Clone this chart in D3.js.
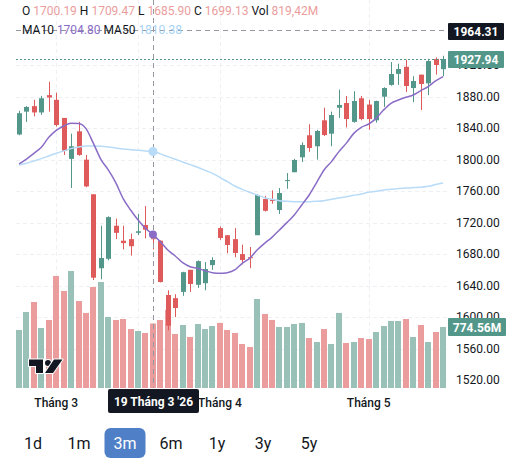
<!DOCTYPE html>
<html>
<head>
<meta charset="utf-8">
<script src="https://cdn.jsdelivr.net/npm/d3@7"></script>
<style>
  html, body { margin: 0; padding: 0; background: #fff; }
  svg { display: block; font-family: Roboto, "Liberation Sans", sans-serif; }
</style>
</head>
<body>
<div id="chart"></div>
<script>
// trading days shown (3 month view)
const dates = [
  "2026-02-23", "2026-02-24", "2026-02-25", "2026-02-26", "2026-02-27",
  "2026-03-02", "2026-03-03", "2026-03-04", "2026-03-05", "2026-03-06",
  "2026-03-09", "2026-03-10", "2026-03-11", "2026-03-12", "2026-03-13",
  "2026-03-16", "2026-03-17", "2026-03-18", "2026-03-19", "2026-03-20",
  "2026-03-23", "2026-03-24", "2026-03-25", "2026-03-26", "2026-03-27",
  "2026-03-30", "2026-03-31", "2026-04-01", "2026-04-02", "2026-04-03",
  "2026-04-06", "2026-04-07", "2026-04-08", "2026-04-09", "2026-04-10",
  "2026-04-13", "2026-04-14", "2026-04-15", "2026-04-16", "2026-04-17",
  "2026-04-20", "2026-04-21", "2026-04-22", "2026-04-23", "2026-04-24",
  "2026-04-28", "2026-04-29", "2026-05-04", "2026-05-05", "2026-05-06",
  "2026-05-07", "2026-05-08", "2026-05-11", "2026-05-12", "2026-05-13",
  "2026-05-14", "2026-05-15", "2026-05-18"
];

const opens = [1832, 1861, 1868, 1860, 1882, 1876, 1853, 1801, 1836, 1800,
  1756, 1662, 1674, 1716, 1697, 1699, 1707, 1717, 1700.19, 1697,
  1628, 1624, 1632, 1660, 1641, 1643, 1666, 1713, 1704, 1699,
  1680, 1676, 1704, 1750, 1749, 1736, 1773, 1784, 1803, 1831,
  1817, 1850, 1833, 1866, 1872, 1848, 1878, 1870, 1850, 1880,
  1895, 1909, 1918, 1891, 1908, 1897, 1928, 1915];
const highs = [1862, 1868, 1876, 1881, 1899, 1885, 1853, 1833, 1848, 1806,
  1756, 1716, 1728, 1725, 1716, 1706, 1731, 1741, 1709.47, 1697.5,
  1634, 1629, 1657.5, 1660, 1672, 1670, 1676, 1715, 1704, 1713,
  1692, 1689, 1756, 1754, 1761, 1764, 1783, 1801, 1822, 1845,
  1838, 1866, 1861, 1889, 1881, 1887, 1881, 1876, 1875, 1892,
  1924, 1922, 1927, 1906, 1908, 1928, 1930, 1932];
const lows = [1831, 1848, 1855, 1857, 1861, 1842, 1806, 1764, 1805, 1765,
  1647, 1648, 1672, 1699, 1686, 1678, 1704, 1700, 1685.90, 1644,
  1583, 1600, 1627, 1632, 1637, 1634, 1660, 1698, 1681, 1676,
  1667, 1662, 1704, 1734, 1744, 1731, 1763, 1784, 1797, 1810,
  1800, 1830, 1817, 1853, 1841, 1847, 1850, 1838, 1847, 1867,
  1894, 1895, 1886, 1873, 1863, 1882, 1908, 1906];
const closes = [1859, 1867, 1860, 1878, 1879, 1844, 1811, 1817, 1806, 1766,
  1650, 1675, 1727, 1707, 1694, 1690, 1709, 1711, 1699.13, 1644.5,
  1589, 1611.5, 1657, 1642, 1671, 1661, 1672.5, 1700.5, 1691.6, 1681.4,
  1672.5, 1675, 1755, 1735, 1747.5, 1757.6, 1774, 1799.6, 1818.6, 1814.8,
  1836.4, 1831.3, 1856.7, 1869.5, 1851.6, 1874.5, 1851.6, 1851.6, 1874.5, 1891,
  1908.8, 1915.2, 1893.6, 1899.9, 1896.1, 1925.3, 1920.3, 1927.94];

// volume in millions
const volumes = [737, 965, 1092, 762, 864, 1422, 1232, 1486, 1105, 953,
  1283, 1346, 902, 864, 876, 749, 724, 699, 819.42, 864,
  991, 686, 800, 648, 813, 749, 787, 826, 737, 699,
  559, 521, 1130, 940, 864, 775, 775, 813, 826, 635,
  584, 749, 559, 953, 572, 584, 635, 622, 711, 787,
  851, 851, 876, 648, 800, 584, 711, 774.56];

// moving averages
const ma10 = [1794.5, 1800.8, 1808, 1815.7, 1828.4, 1837.3, 1842.8, 1846.2, 1845.8, 1839.4,
  1820.7, 1800.4, 1786.9, 1770.8, 1750.5, 1736, 1723.3, 1712.7, 1704.8, 1695.8,
  1685.2, 1677.6, 1669.1, 1664, 1661.9, 1658.9, 1656.4, 1655.6, 1656.4, 1659.8,
  1668.3, 1674.6, 1685.2, 1693.7, 1701.3, 1710.6, 1720, 1729.7, 1742.4, 1755.1,
  1770.8, 1786.9, 1797.5, 1810.2, 1821, 1833.4, 1841.1, 1845.3, 1852.5, 1863.1,
  1871.6, 1875.8, 1879.2, 1882.2, 1887.7, 1892.8, 1900, 1905.5];
const ma50 = [1793.2, 1795.4, 1798.3, 1801.3, 1804.7, 1808.1, 1811, 1814, 1816.1, 1817.4,
  1817.4, 1817, 1816.1, 1814.8, 1813.6, 1812.7, 1811.9, 1811, 1810.38, 1807.3,
  1803.9, 1800.5, 1797.1, 1793.7, 1790.3, 1786.5, 1782.6, 1777.5, 1772, 1766.5,
  1762.3, 1758.5, 1755.1, 1751.7, 1749.6, 1747.9, 1747, 1746.6, 1746.6, 1746.6,
  1747, 1747.9, 1749.6, 1751.3, 1753, 1754.7, 1756.4, 1758.5, 1759.8, 1761.5,
  1762.3, 1763.2, 1764, 1764.5, 1764.9, 1766.2, 1768.3, 1770.4];

const priceTicks = [1520, 1560, 1600, 1640, 1680, 1720, 1760, 1800, 1840, 1880, 1920];
const monthTicks = ["2026-03-02", "2026-04-01", "2026-05-04"];
const monthLabels = ["Tháng 3", "Tháng 4", "Tháng 5"];
const gridDates = ["2026-03-02", "2026-03-17", "2026-04-01", "2026-05-04"];
const ranges = ["1d", "1m", "3m", "6m", "1y", "3y", "5y"];

// crosshair state
const hoverDate = "2026-03-19";
const hoverLabel = "19 Tháng 3 '26";
const hoverPrice = 1964.31;

// colours
const UP = "#53978a", DOWN = "#df5a5a";
const UP_VOL = "#9ac1b8", DOWN_VOL = "#eb9d9d";
const TEXT = "#131722";
const MA10_COLOR = "#8a6cc7", MA50_COLOR = "#b8dbf8";

const candles = dates.map((d, i) => ({
  date: d, open: opens[i], high: highs[i], low: lows[i], close: closes[i],
  vol: volumes[i], ma10: ma10[i], ma50: ma50[i]
}));

// chart parameters
const width = 518, height = 463;
const plotLeft = 16, plotRight = 448, plotBottom = 388;

const svg = d3.select("#chart")
  .append("svg")
  .attr("width", width)
  .attr("height", height);

svg.append("defs").append("clipPath")
  .attr("id", "plot-clip")
  .append("rect")
  .attr("x", plotLeft)
  .attr("y", 0)
  .attr("width", plotRight - plotLeft)
  .attr("height", plotBottom);

// scales
const xScale = d3.scaleBand()
  .domain(dates)
  .range([15.3, 446.8]);
const xMid = d => xScale(d) + xScale.bandwidth() / 2;

const yScale = d3.scaleLinear()
  .domain([1520, 1880])
  .range([380, 96.7]);

const volScale = d3.scaleLinear()
  .domain([0, 1000])
  .range([plotBottom, plotBottom - 78.75]);

// grid
const grid = svg.append("g")
  .attr("class", "grid")
  .attr("stroke", "#eef0f4")
  .attr("stroke-dasharray", "4,3");
grid.selectAll("line.h")
  .data(priceTicks)
  .enter()
  .append("line")
  .attr("class", "h")
  .attr("x1", plotLeft)
  .attr("x2", plotRight)
  .attr("y1", d => Math.round(yScale(d)) + 0.5)
  .attr("y2", d => Math.round(yScale(d)) + 0.5);
grid.selectAll("line.v")
  .data(gridDates)
  .enter()
  .append("line")
  .attr("class", "v")
  .attr("x1", d => Math.round(xMid(d)) + 0.5)
  .attr("x2", d => Math.round(xMid(d)) + 0.5)
  .attr("y1", 0)
  .attr("y2", plotBottom);

const plot = svg.append("g").attr("clip-path", "url(#plot-clip)");

// volume bars
plot.append("g")
  .attr("class", "volume")
  .selectAll("rect")
  .data(candles)
  .enter()
  .append("rect")
  .attr("x", d => Math.round(xMid(d.date) - 3))
  .attr("width", 6)
  .attr("y", d => volScale(d.vol))
  .attr("height", d => plotBottom - volScale(d.vol))
  .attr("fill", d => d.close >= d.open ? UP_VOL : DOWN_VOL);

// candle wicks
const candleG = plot.append("g").attr("class", "candles");
candleG.selectAll("line")
  .data(candles)
  .enter()
  .append("line")
  .attr("x1", d => Math.round(xMid(d.date)) + 0.5)
  .attr("x2", d => Math.round(xMid(d.date)) + 0.5)
  .attr("y1", d => yScale(d.high))
  .attr("y2", d => yScale(d.low))
  .attr("stroke", d => d.close >= d.open ? UP : DOWN)
  .attr("stroke-width", 1);

// candle bodies
candleG.selectAll("rect")
  .data(candles)
  .enter()
  .append("rect")
  .attr("x", d => Math.round(xMid(d.date)) - 2)
  .attr("width", 5)
  .attr("y", d => yScale(Math.max(d.open, d.close)))
  .attr("height", d => Math.max(1, Math.abs(yScale(d.open) - yScale(d.close))))
  .attr("fill", d => d.close >= d.open ? UP : DOWN);

// moving averages
const maLine = key => d3.line()
  .x(d => xMid(d.date))
  .y(d => yScale(d[key]))
  .curve(d3.curveMonotoneX);

plot.append("path")
  .datum(candles)
  .attr("d", maLine("ma50"))
  .attr("fill", "none")
  .attr("stroke", MA50_COLOR)
  .attr("stroke-width", 1.5);
plot.append("path")
  .datum(candles)
  .attr("d", maLine("ma10"))
  .attr("fill", "none")
  .attr("stroke", MA10_COLOR)
  .attr("stroke-width", 1.5);

// last price line
const last = candles[candles.length - 1];
svg.append("line")
  .attr("x1", plotLeft)
  .attr("x2", plotRight)
  .attr("y1", Math.round(yScale(last.close)) + 0.5)
  .attr("y2", Math.round(yScale(last.close)) + 0.5)
  .attr("stroke", UP)
  .attr("stroke-dasharray", "2,2");

// crosshair
const hover = candles.find(d => d.date === hoverDate);
const hx = Math.round(xMid(hoverDate)) + 0.5;
const hy = Math.round(yScale(hoverPrice)) + 0.5;
svg.append("line")
  .attr("x1", hx).attr("x2", hx)
  .attr("y1", 0).attr("y2", plotBottom)
  .attr("stroke", "#9598a1")
  .attr("stroke-dasharray", "5,4");
svg.append("line")
  .attr("x1", plotLeft).attr("x2", plotRight)
  .attr("y1", hy).attr("y2", hy)
  .attr("stroke", "#9598a1")
  .attr("stroke-dasharray", "5,4");
svg.append("circle")
  .attr("cx", xMid(hoverDate))
  .attr("cy", yScale(hover.ma50))
  .attr("r", 4.5)
  .attr("fill", MA50_COLOR);
svg.append("circle")
  .attr("cx", xMid(hoverDate))
  .attr("cy", yScale(hover.ma10))
  .attr("r", 4)
  .attr("fill", MA10_COLOR);

// TradingView logo
const logo = svg.append("g")
  .attr("fill", TEXT)
  .attr("stroke", "#fff")
  .attr("stroke-width", 2)
  .attr("stroke-linejoin", "round")
  .style("paint-order", "stroke");
logo.append("path").attr("d", "M29,359.5H43V373H36V366H29Z");
logo.append("circle").attr("cx", 48).attr("cy", 363).attr("r", 3);
logo.append("path").attr("d", "M54,359.5H62.5L53,373H45Z");

// price axis
svg.append("g")
  .attr("class", "y axis")
  .selectAll("text")
  .data(priceTicks)
  .enter()
  .append("text")
  .attr("x", 456)
  .attr("y", d => yScale(d) + 4)
  .attr("font-size", 12)
  .attr("fill", TEXT)
  .text(d => d3.format(".2f")(d));

// axis badges
function badge(y, h, w, fill, label) {
  svg.append("rect")
    .attr("x", 448).attr("y", y)
    .attr("width", w).attr("height", h)
    .attr("rx", 1)
    .attr("fill", fill);
  svg.append("text")
    .attr("x", 448 + w / 2)
    .attr("y", y + h / 2 + 4.5)
    .attr("text-anchor", "middle")
    .attr("font-size", 12)
    .attr("font-weight", 700)
    .attr("fill", "#fff")
    .text(label);
}
badge(Math.round(yScale(hoverPrice)) - 7, 17, 56, TEXT, d3.format(".2f")(hoverPrice));
badge(Math.round(yScale(last.close)) - 8, 17, 56, UP, d3.format(".2f")(last.close));
badge(Math.round(volScale(last.vol)) - 9, 18, 58, UP, d3.format(".2f")(last.vol) + "M");

// time axis
svg.append("g")
  .attr("class", "x axis")
  .selectAll("text")
  .data(monthTicks)
  .enter()
  .append("text")
  .attr("x", d => xMid(d))
  .attr("y", 407)
  .attr("text-anchor", "middle")
  .attr("font-size", 12)
  .attr("font-weight", 500)
  .attr("fill", TEXT)
  .text((d, i) => monthLabels[i]);

svg.append("rect")
  .attr("x", hx - 45.5).attr("y", 389)
  .attr("width", 91).attr("height", 24)
  .attr("rx", 2)
  .attr("fill", TEXT);
svg.append("text")
  .attr("x", hx)
  .attr("y", 405.5)
  .attr("text-anchor", "middle")
  .attr("font-size", 12)
  .attr("font-weight", 700)
  .attr("fill", "#fff")
  .text(hoverLabel);

// legend
const fmt = d3.format(".2f");
const legend1 = svg.append("text")
  .attr("x", 22)
  .attr("y", 15)
  .attr("font-size", 12)
  .attr("fill", TEXT);
[["O ", TEXT], [fmt(hover.open), DOWN_VOL], [" H ", TEXT], [fmt(hover.high), DOWN_VOL],
 [" L ", TEXT], [fmt(hover.low), DOWN_VOL], [" C ", TEXT], [fmt(hover.close), DOWN_VOL],
 [" Vol ", TEXT], [fmt(hover.vol).replace(".", ",") + "M", DOWN_VOL]]
  .forEach(([t, c]) => legend1.append("tspan").attr("fill", c).text(t));

const legend2 = svg.append("text")
  .attr("x", 22)
  .attr("y", 34)
  .attr("font-size", 12)
  .attr("fill", TEXT);
[["MA10 ", TEXT], [fmt(hover.ma10), MA10_COLOR], [" MA50 ", TEXT], [fmt(hover.ma50), "#a9d3f5"]]
  .forEach(([t, c]) => legend2.append("tspan").attr("fill", c).text(t));

// range buttons
const btnX = d3.scalePoint()
  .domain(ranges)
  .range([33, 309]);
svg.append("rect")
  .attr("x", btnX("3m") - 20.5).attr("y", 428)
  .attr("width", 41).attr("height", 30)
  .attr("rx", 6)
  .attr("fill", "#4f7fc6");
svg.append("g")
  .selectAll("text")
  .data(ranges)
  .enter()
  .append("text")
  .attr("x", d => btnX(d))
  .attr("y", 449)
  .attr("text-anchor", "middle")
  .attr("font-size", 16)
  .attr("fill", d => d === "3m" ? "#fff" : TEXT)
  .text(d => d);
</script>
</body>
</html>
